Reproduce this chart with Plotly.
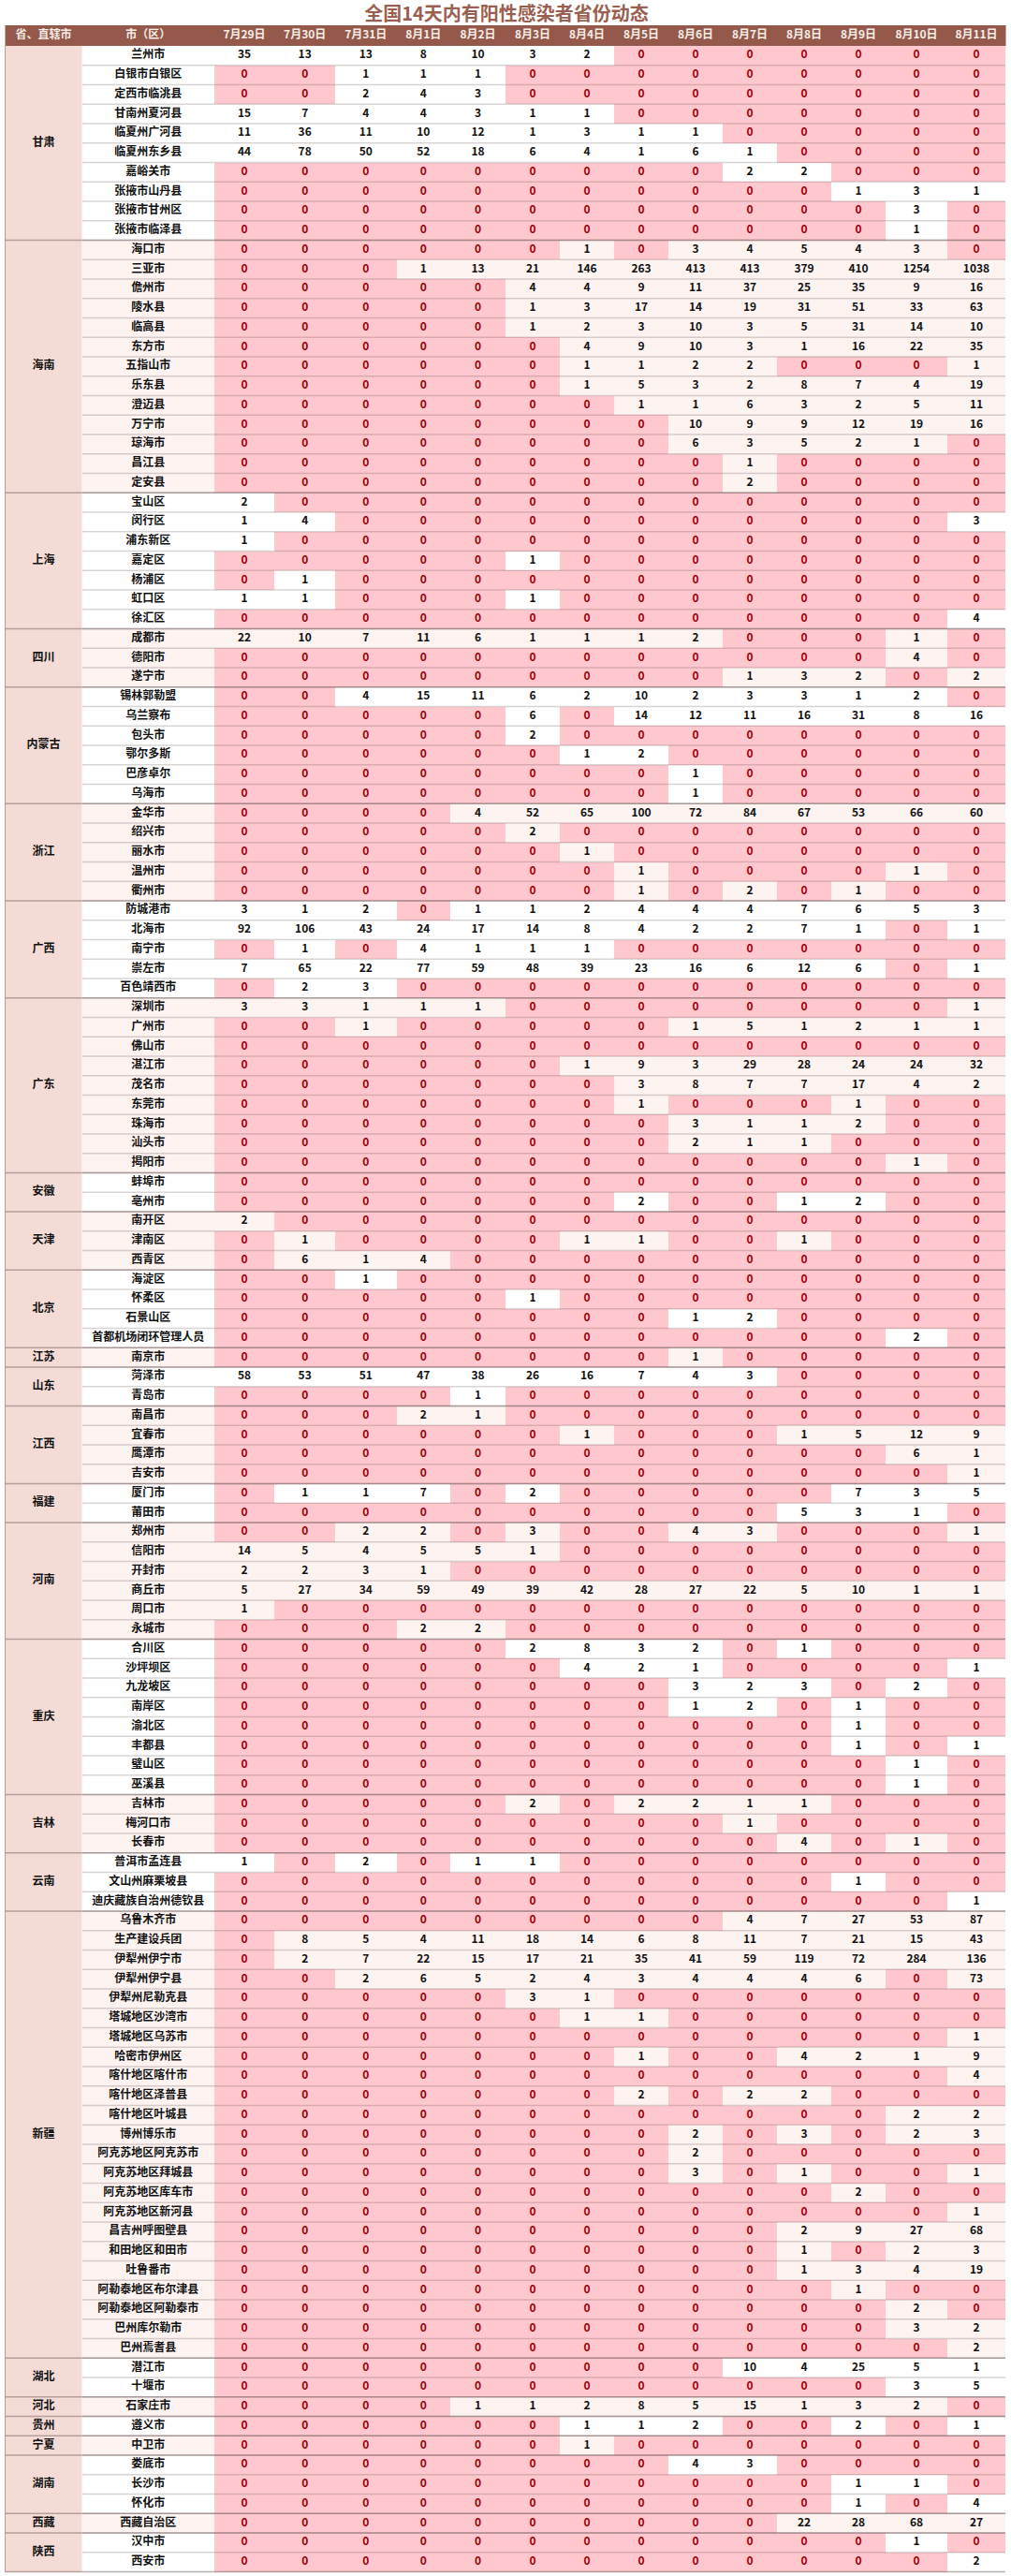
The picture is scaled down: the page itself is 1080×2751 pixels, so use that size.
# 全国14天内有阳性感染者省份动态 table
import numpy as np
import plotly.graph_objects as go

dates = ['7月29日', '7月30日', '7月31日', '8月1日', '8月2日', '8月3日', '8月4日',
         '8月5日', '8月6日', '8月7日', '8月8日', '8月9日', '8月10日', '8月11日']

gansu_cities = ['兰州市', '白银市白银区', '定西市临洮县', '甘南州夏河县', '临夏州广河县', '临夏州东乡县',
                '嘉峪关市', '张掖市山丹县', '张掖市甘州区', '张掖市临泽县']
gansu = [[35, 13, 13, 8, 10, 3, 2, 0, 0, 0, 0, 0, 0, 0],
         [0, 0, 1, 1, 1, 0, 0, 0, 0, 0, 0, 0, 0, 0],
         [0, 0, 2, 4, 3, 0, 0, 0, 0, 0, 0, 0, 0, 0],
         [15, 7, 4, 4, 3, 1, 1, 0, 0, 0, 0, 0, 0, 0],
         [11, 36, 11, 10, 12, 1, 3, 1, 1, 0, 0, 0, 0, 0],
         [44, 78, 50, 52, 18, 6, 4, 1, 6, 1, 0, 0, 0, 0],
         [0, 0, 0, 0, 0, 0, 0, 0, 0, 2, 2, 0, 0, 0],
         [0, 0, 0, 0, 0, 0, 0, 0, 0, 0, 0, 1, 3, 1],
         [0, 0, 0, 0, 0, 0, 0, 0, 0, 0, 0, 0, 3, 0],
         [0, 0, 0, 0, 0, 0, 0, 0, 0, 0, 0, 0, 1, 0]]

hainan_cities = ['海口市', '三亚市', '儋州市', '陵水县', '临高县', '东方市', '五指山市', '乐东县', '澄迈县',
                 '万宁市', '琼海市', '昌江县', '定安县']
hainan = [[0, 0, 0, 0, 0, 0, 1, 0, 3, 4, 5, 4, 3, 0],
          [0, 0, 0, 1, 13, 21, 146, 263, 413, 413, 379, 410, 1254, 1038],
          [0, 0, 0, 0, 0, 4, 4, 9, 11, 37, 25, 35, 9, 16],
          [0, 0, 0, 0, 0, 1, 3, 17, 14, 19, 31, 51, 33, 63],
          [0, 0, 0, 0, 0, 1, 2, 3, 10, 3, 5, 31, 14, 10],
          [0, 0, 0, 0, 0, 0, 4, 9, 10, 3, 1, 16, 22, 35],
          [0, 0, 0, 0, 0, 0, 1, 1, 2, 2, 0, 0, 0, 1],
          [0, 0, 0, 0, 0, 0, 1, 5, 3, 2, 8, 7, 4, 19],
          [0, 0, 0, 0, 0, 0, 0, 1, 1, 6, 3, 2, 5, 11],
          [0, 0, 0, 0, 0, 0, 0, 0, 10, 9, 9, 12, 19, 16],
          [0, 0, 0, 0, 0, 0, 0, 0, 6, 3, 5, 2, 1, 0],
          [0, 0, 0, 0, 0, 0, 0, 0, 0, 1, 0, 0, 0, 0],
          [0, 0, 0, 0, 0, 0, 0, 0, 0, 2, 0, 0, 0, 0]]

shanghai_cities = ['宝山区', '闵行区', '浦东新区', '嘉定区', '杨浦区', '虹口区', '徐汇区']
shanghai = [[2, 0, 0, 0, 0, 0, 0, 0, 0, 0, 0, 0, 0, 0],
            [1, 4, 0, 0, 0, 0, 0, 0, 0, 0, 0, 0, 0, 3],
            [1, 0, 0, 0, 0, 0, 0, 0, 0, 0, 0, 0, 0, 0],
            [0, 0, 0, 0, 0, 1, 0, 0, 0, 0, 0, 0, 0, 0],
            [0, 1, 0, 0, 0, 0, 0, 0, 0, 0, 0, 0, 0, 0],
            [1, 1, 0, 0, 0, 1, 0, 0, 0, 0, 0, 0, 0, 0],
            [0, 0, 0, 0, 0, 0, 0, 0, 0, 0, 0, 0, 0, 4]]

sichuan_cities = ['成都市', '德阳市', '遂宁市']
sichuan = [[22, 10, 7, 11, 6, 1, 1, 1, 2, 0, 0, 0, 1, 0],
           [0, 0, 0, 0, 0, 0, 0, 0, 0, 0, 0, 0, 4, 0],
           [0, 0, 0, 0, 0, 0, 0, 0, 0, 1, 3, 2, 0, 2]]

neimenggu_cities = ['锡林郭勒盟', '乌兰察布', '包头市', '鄂尔多斯', '巴彦卓尔', '乌海市']
neimenggu = [[0, 0, 4, 15, 11, 6, 2, 10, 2, 3, 3, 1, 2, 0],
             [0, 0, 0, 0, 0, 6, 0, 14, 12, 11, 16, 31, 8, 16],
             [0, 0, 0, 0, 0, 2, 0, 0, 0, 0, 0, 0, 0, 0],
             [0, 0, 0, 0, 0, 0, 1, 2, 0, 0, 0, 0, 0, 0],
             [0, 0, 0, 0, 0, 0, 0, 0, 1, 0, 0, 0, 0, 0],
             [0, 0, 0, 0, 0, 0, 0, 0, 1, 0, 0, 0, 0, 0]]

zhejiang_cities = ['金华市', '绍兴市', '丽水市', '温州市', '衢州市']
zhejiang = [[0, 0, 0, 0, 4, 52, 65, 100, 72, 84, 67, 53, 66, 60],
            [0, 0, 0, 0, 0, 2, 0, 0, 0, 0, 0, 0, 0, 0],
            [0, 0, 0, 0, 0, 0, 1, 0, 0, 0, 0, 0, 0, 0],
            [0, 0, 0, 0, 0, 0, 0, 1, 0, 0, 0, 0, 1, 0],
            [0, 0, 0, 0, 0, 0, 0, 1, 0, 2, 0, 1, 0, 0]]

guangxi_cities = ['防城港市', '北海市', '南宁市', '崇左市', '百色靖西市']
guangxi = [[3, 1, 2, 0, 1, 1, 2, 4, 4, 4, 7, 6, 5, 3],
           [92, 106, 43, 24, 17, 14, 8, 4, 2, 2, 7, 1, 0, 1],
           [0, 1, 0, 4, 1, 1, 1, 0, 0, 0, 0, 0, 0, 0],
           [7, 65, 22, 77, 59, 48, 39, 23, 16, 6, 12, 6, 0, 1],
           [0, 2, 3, 0, 0, 0, 0, 0, 0, 0, 0, 0, 0, 0]]

guangdong_cities = ['深圳市', '广州市', '佛山市', '湛江市', '茂名市', '东莞市', '珠海市', '汕头市', '揭阳市']
guangdong = [[3, 3, 1, 1, 1, 0, 0, 0, 0, 0, 0, 0, 0, 1],
             [0, 0, 1, 0, 0, 0, 0, 0, 1, 5, 1, 2, 1, 1],
             [0, 0, 0, 0, 0, 0, 0, 0, 0, 0, 0, 0, 0, 0],
             [0, 0, 0, 0, 0, 0, 1, 9, 3, 29, 28, 24, 24, 32],
             [0, 0, 0, 0, 0, 0, 0, 3, 8, 7, 7, 17, 4, 2],
             [0, 0, 0, 0, 0, 0, 0, 1, 0, 0, 0, 1, 0, 0],
             [0, 0, 0, 0, 0, 0, 0, 0, 3, 1, 1, 2, 0, 0],
             [0, 0, 0, 0, 0, 0, 0, 0, 2, 1, 1, 0, 0, 0],
             [0, 0, 0, 0, 0, 0, 0, 0, 0, 0, 0, 0, 1, 0]]

anhui_cities = ['蚌埠市', '亳州市']
anhui = [[0, 0, 0, 0, 0, 0, 0, 0, 0, 0, 0, 0, 0, 0],
         [0, 0, 0, 0, 0, 0, 0, 2, 0, 0, 1, 2, 0, 0]]

tianjin_cities = ['南开区', '津南区', '西青区']
tianjin = [[2, 0, 0, 0, 0, 0, 0, 0, 0, 0, 0, 0, 0, 0],
           [0, 1, 0, 0, 0, 0, 1, 1, 0, 0, 1, 0, 0, 0],
           [0, 6, 1, 4, 0, 0, 0, 0, 0, 0, 0, 0, 0, 0]]

beijing_cities = ['海淀区', '怀柔区', '石景山区', '首都机场闭环管理人员']
beijing = [[0, 0, 1, 0, 0, 0, 0, 0, 0, 0, 0, 0, 0, 0],
           [0, 0, 0, 0, 0, 1, 0, 0, 0, 0, 0, 0, 0, 0],
           [0, 0, 0, 0, 0, 0, 0, 0, 1, 2, 0, 0, 0, 0],
           [0, 0, 0, 0, 0, 0, 0, 0, 0, 0, 0, 0, 2, 0]]

jiangsu_cities = ['南京市']
jiangsu = [[0, 0, 0, 0, 0, 0, 0, 0, 1, 0, 0, 0, 0, 0]]

shandong_cities = ['菏泽市', '青岛市']
shandong = [[58, 53, 51, 47, 38, 26, 16, 7, 4, 3, 0, 0, 0, 0],
            [0, 0, 0, 0, 1, 0, 0, 0, 0, 0, 0, 0, 0, 0]]

jiangxi_cities = ['南昌市', '宜春市', '鹰潭市', '吉安市']
jiangxi = [[0, 0, 0, 2, 1, 0, 0, 0, 0, 0, 0, 0, 0, 0],
           [0, 0, 0, 0, 0, 0, 1, 0, 0, 0, 1, 5, 12, 9],
           [0, 0, 0, 0, 0, 0, 0, 0, 0, 0, 0, 0, 6, 1],
           [0, 0, 0, 0, 0, 0, 0, 0, 0, 0, 0, 0, 0, 1]]

fujian_cities = ['厦门市', '莆田市']
fujian = [[0, 1, 1, 7, 0, 2, 0, 0, 0, 0, 0, 7, 3, 5],
          [0, 0, 0, 0, 0, 0, 0, 0, 0, 0, 5, 3, 1, 0]]

henan_cities = ['郑州市', '信阳市', '开封市', '商丘市', '周口市', '永城市']
henan = [[0, 0, 2, 2, 0, 3, 0, 0, 4, 3, 0, 0, 0, 1],
         [14, 5, 4, 5, 5, 1, 0, 0, 0, 0, 0, 0, 0, 0],
         [2, 2, 3, 1, 0, 0, 0, 0, 0, 0, 0, 0, 0, 0],
         [5, 27, 34, 59, 49, 39, 42, 28, 27, 22, 5, 10, 1, 1],
         [1, 0, 0, 0, 0, 0, 0, 0, 0, 0, 0, 0, 0, 0],
         [0, 0, 0, 2, 2, 0, 0, 0, 0, 0, 0, 0, 0, 0]]

chongqing_cities = ['合川区', '沙坪坝区', '九龙坡区', '南岸区', '渝北区', '丰都县', '璧山区', '巫溪县']
chongqing = [[0, 0, 0, 0, 0, 2, 8, 3, 2, 0, 1, 0, 0, 0],
             [0, 0, 0, 0, 0, 0, 4, 2, 1, 0, 0, 0, 0, 1],
             [0, 0, 0, 0, 0, 0, 0, 0, 3, 2, 3, 0, 2, 0],
             [0, 0, 0, 0, 0, 0, 0, 0, 1, 2, 0, 1, 0, 0],
             [0, 0, 0, 0, 0, 0, 0, 0, 0, 0, 0, 1, 0, 0],
             [0, 0, 0, 0, 0, 0, 0, 0, 0, 0, 0, 1, 0, 1],
             [0, 0, 0, 0, 0, 0, 0, 0, 0, 0, 0, 0, 1, 0],
             [0, 0, 0, 0, 0, 0, 0, 0, 0, 0, 0, 0, 1, 0]]

jilin_cities = ['吉林市', '梅河口市', '长春市']
jilin = [[0, 0, 0, 0, 0, 2, 0, 2, 2, 1, 1, 0, 0, 0],
         [0, 0, 0, 0, 0, 0, 0, 0, 0, 1, 0, 0, 0, 0],
         [0, 0, 0, 0, 0, 0, 0, 0, 0, 0, 4, 0, 1, 0]]

yunnan_cities = ['普洱市孟连县', '文山州麻栗坡县', '迪庆藏族自治州德钦县']
yunnan = [[1, 0, 2, 0, 1, 1, 0, 0, 0, 0, 0, 0, 0, 0],
          [0, 0, 0, 0, 0, 0, 0, 0, 0, 0, 0, 1, 0, 0],
          [0, 0, 0, 0, 0, 0, 0, 0, 0, 0, 0, 0, 0, 1]]

xinjiang_cities = ['乌鲁木齐市', '生产建设兵团', '伊犁州伊宁市', '伊犁州伊宁县', '伊犁州尼勒克县', '塔城地区沙湾市',
                   '塔城地区乌苏市', '哈密市伊州区', '喀什地区喀什市', '喀什地区泽普县', '喀什地区叶城县', '博州博乐市',
                   '阿克苏地区阿克苏市', '阿克苏地区拜城县', '阿克苏地区库车市', '阿克苏地区新河县', '昌吉州呼图壁县',
                   '和田地区和田市', '吐鲁番市', '阿勒泰地区布尔津县', '阿勒泰地区阿勒泰市', '巴州库尔勒市', '巴州焉耆县']
xinjiang = [[0, 0, 0, 0, 0, 0, 0, 0, 0, 4, 7, 27, 53, 87],
            [0, 8, 5, 4, 11, 18, 14, 6, 8, 11, 7, 21, 15, 43],
            [0, 2, 7, 22, 15, 17, 21, 35, 41, 59, 119, 72, 284, 136],
            [0, 0, 2, 6, 5, 2, 4, 3, 4, 4, 4, 6, 0, 73],
            [0, 0, 0, 0, 0, 3, 1, 0, 0, 0, 0, 0, 0, 0],
            [0, 0, 0, 0, 0, 0, 1, 1, 0, 0, 0, 0, 0, 0],
            [0, 0, 0, 0, 0, 0, 0, 0, 0, 0, 0, 0, 0, 1],
            [0, 0, 0, 0, 0, 0, 0, 1, 0, 0, 4, 2, 1, 9],
            [0, 0, 0, 0, 0, 0, 0, 0, 0, 0, 0, 0, 0, 4],
            [0, 0, 0, 0, 0, 0, 0, 2, 0, 2, 2, 0, 0, 0],
            [0, 0, 0, 0, 0, 0, 0, 0, 0, 0, 0, 0, 2, 2],
            [0, 0, 0, 0, 0, 0, 0, 0, 2, 0, 3, 0, 2, 3],
            [0, 0, 0, 0, 0, 0, 0, 0, 2, 0, 0, 0, 0, 0],
            [0, 0, 0, 0, 0, 0, 0, 0, 3, 0, 1, 0, 0, 1],
            [0, 0, 0, 0, 0, 0, 0, 0, 0, 0, 0, 2, 0, 0],
            [0, 0, 0, 0, 0, 0, 0, 0, 0, 0, 0, 0, 0, 1],
            [0, 0, 0, 0, 0, 0, 0, 0, 0, 0, 2, 9, 27, 68],
            [0, 0, 0, 0, 0, 0, 0, 0, 0, 0, 1, 0, 2, 3],
            [0, 0, 0, 0, 0, 0, 0, 0, 0, 0, 1, 3, 4, 19],
            [0, 0, 0, 0, 0, 0, 0, 0, 0, 0, 0, 1, 0, 0],
            [0, 0, 0, 0, 0, 0, 0, 0, 0, 0, 0, 0, 2, 0],
            [0, 0, 0, 0, 0, 0, 0, 0, 0, 0, 0, 0, 3, 2],
            [0, 0, 0, 0, 0, 0, 0, 0, 0, 0, 0, 0, 0, 2]]

hubei_cities = ['潜江市', '十堰市']
hubei = [[0, 0, 0, 0, 0, 0, 0, 0, 0, 10, 4, 25, 5, 1],
         [0, 0, 0, 0, 0, 0, 0, 0, 0, 0, 0, 0, 3, 5]]

hebei_cities = ['石家庄市']
hebei = [[0, 0, 0, 0, 1, 1, 2, 8, 5, 15, 1, 3, 2, 0]]

guizhou_cities = ['遵义市']
guizhou = [[0, 0, 0, 0, 0, 0, 1, 1, 2, 0, 0, 2, 0, 1]]

ningxia_cities = ['中卫市']
ningxia = [[0, 0, 0, 0, 0, 0, 1, 0, 0, 0, 0, 0, 0, 0]]

hunan_cities = ['娄底市', '长沙市', '怀化市']
hunan = [[0, 0, 0, 0, 0, 0, 0, 0, 4, 3, 0, 0, 0, 0],
         [0, 0, 0, 0, 0, 0, 0, 0, 0, 0, 0, 1, 1, 0],
         [0, 0, 0, 0, 0, 0, 0, 0, 0, 0, 0, 1, 0, 4]]

xizang_cities = ['西藏自治区']
xizang = [[0, 0, 0, 0, 0, 0, 0, 0, 0, 0, 22, 28, 68, 27]]

shaanxi_cities = ['汉中市', '西安市']
shaanxi = [[0, 0, 0, 0, 0, 0, 0, 0, 0, 0, 0, 0, 1, 0],
           [0, 0, 0, 0, 0, 0, 0, 0, 0, 0, 0, 0, 0, 2]]

groups = [('甘肃', gansu_cities, gansu), ('海南', hainan_cities, hainan), ('上海', shanghai_cities, shanghai),
          ('四川', sichuan_cities, sichuan), ('内蒙古', neimenggu_cities, neimenggu),
          ('浙江', zhejiang_cities, zhejiang), ('广西', guangxi_cities, guangxi),
          ('广东', guangdong_cities, guangdong), ('安徽', anhui_cities, anhui), ('天津', tianjin_cities, tianjin),
          ('北京', beijing_cities, beijing), ('江苏', jiangsu_cities, jiangsu), ('山东', shandong_cities, shandong),
          ('江西', jiangxi_cities, jiangxi), ('福建', fujian_cities, fujian), ('河南', henan_cities, henan),
          ('重庆', chongqing_cities, chongqing), ('吉林', jilin_cities, jilin), ('云南', yunnan_cities, yunnan),
          ('新疆', xinjiang_cities, xinjiang), ('湖北', hubei_cities, hubei), ('河北', hebei_cities, hebei),
          ('贵州', guizhou_cities, guizhou), ('宁夏', ningxia_cities, ningxia), ('湖南', hunan_cities, hunan),
          ('西藏', xizang_cities, xizang), ('陕西', shaanxi_cities, shaanxi)]

# layout of the table, in pixels across and rows down
FONT = 'Noto Sans CJK SC'
WIDTH, HEIGHT = 1080, 2751
ROW_PX = 20.75
TOP_PX = 49
LEFT, PROV_RIGHT, RIGHT = 5.5, 87.5, 1074
COL_EDGES = [88, 228.6, 293.4, 358, 423.5, 481, 540, 598, 656, 714, 772, 830, 888, 946, 1012, 1074]

rows = np.vstack([np.array(g[2]) for g in groups])
cities = [c for g in groups for c in g[1]]
sizes = [len(g[1]) for g in groups]
group_edges = np.concatenate([[0], np.cumsum(sizes)])
n_rows = len(cities)

# banding alternates by province: 1 white, 2 light pink, 0 the "zero" pink
band = np.concatenate([[1 + i % 2] * s for i, s in enumerate(sizes)])
cell_cat = np.where(rows == 0, 0, band[:, None])
z = np.column_stack([band, cell_cat])

x_mid = (np.array(COL_EDGES[:-1]) + np.array(COL_EDGES[1:])) / 2
y_mid = np.arange(n_rows) + 0.5
header_y = (37.5 - TOP_PX) / ROW_PX

fig = go.Figure()

# cell fills
fig.add_trace(go.Heatmap(x=COL_EDGES, y=np.arange(n_rows + 1), z=z, zmin=0, zmax=2, showscale=False, hoverinfo='skip',
                         colorscale=[[0, '#FFC7CE'], [0.33, '#FFC7CE'], [0.33, '#FFFFFF'], [0.66, '#FFFFFF'],
                                     [0.66, '#FDF3F1'], [1, '#FDF3F1']]))
# merged province column
fig.add_trace(go.Heatmap(x=[LEFT, PROV_RIGHT], y=group_edges, z=[[1] for _ in sizes], showscale=False,
                         hoverinfo='skip', colorscale=[[0, '#F4DBD6'], [1, '#F4DBD6']]))
# header band
fig.add_trace(go.Heatmap(x=[LEFT, RIGHT], y=[(27 - TOP_PX) / ROW_PX, (48.5 - TOP_PX) / ROW_PX], z=[[1]],
                         showscale=False, hoverinfo='skip', colorscale=[[0, '#95594B'], [1, '#95594B']]))

# row rules and province rules
row_x, row_y = [], []
for r in range(1, n_rows):
    row_x += [COL_EDGES[0], RIGHT, None]
    row_y += [r, r, None]
fig.add_trace(go.Scatter(x=row_x, y=row_y, mode='lines', hoverinfo='skip',
                         line=dict(color='rgba(120,100,100,0.28)', width=1.5)))
grp_x, grp_y = [], []
for e in group_edges[1:]:
    grp_x += [LEFT, RIGHT, None]
    grp_y += [e, e, None]
fig.add_trace(go.Scatter(x=grp_x, y=grp_y, mode='lines', hoverinfo='skip',
                         line=dict(color='rgba(120,100,100,0.5)', width=1.5)))
fig.add_trace(go.Scatter(x=[LEFT, LEFT], y=[0, n_rows], mode='lines', hoverinfo='skip',
                         line=dict(color='rgba(150,100,90,0.6)', width=1)))

# header text
fig.add_trace(go.Scatter(x=np.concatenate([[(LEFT + PROV_RIGHT) / 2], x_mid]), y=[header_y] * 16, mode='text',
                         text=['省、直辖市', '市（区）'] + dates, hoverinfo='skip',
                         textfont=dict(family=FONT, size=12, color='#F7EDE6', weight=700)))
# province names
fig.add_trace(go.Scatter(x=[(LEFT + PROV_RIGHT) / 2] * len(groups), y=(group_edges[:-1] + group_edges[1:]) / 2,
                         mode='text', text=[g[0] for g in groups], hoverinfo='skip',
                         textfont=dict(family=FONT, size=12, color='#111111', weight=700)))
# city names
fig.add_trace(go.Scatter(x=[x_mid[0]] * n_rows, y=y_mid, mode='text', text=cities, hoverinfo='skip',
                         textfont=dict(family=FONT, size=12, color='#111111', weight=700)))

# values: zeros red, the rest black
rr, cc = np.nonzero(rows == 0)
fig.add_trace(go.Scatter(x=x_mid[1:][cc], y=y_mid[rr], mode='text', text=rows[rr, cc].astype(str), hoverinfo='skip',
                         textfont=dict(family=FONT, size=12, color='#9C0006', weight=700)))
rr, cc = np.nonzero(rows != 0)
fig.add_trace(go.Scatter(x=x_mid[1:][cc], y=y_mid[rr], mode='text', text=rows[rr, cc].astype(str), hoverinfo='skip',
                         textfont=dict(family=FONT, size=12, color='#111111', weight=700)))

fig.update_layout(
    width=WIDTH, height=HEIGHT, margin=dict(l=0, r=0, t=0, b=0), showlegend=False,
    plot_bgcolor='white', paper_bgcolor='white', hovermode=False,
    title=dict(text='全国14天内有阳性感染者省份动态', x=541 / WIDTH, xanchor='center', y=1 - 15 / HEIGHT, yanchor='middle',
               font=dict(family=FONT, size=20, color='#9A5F50', weight=700)),
    xaxis=dict(range=[0, WIDTH], visible=False, fixedrange=True),
    yaxis=dict(range=[(HEIGHT - TOP_PX) / ROW_PX, -TOP_PX / ROW_PX], visible=False, fixedrange=True),
)

fig.write_html('out.html', config={'displayModeBar': False}, post_script="document.body.style.margin='0'")
